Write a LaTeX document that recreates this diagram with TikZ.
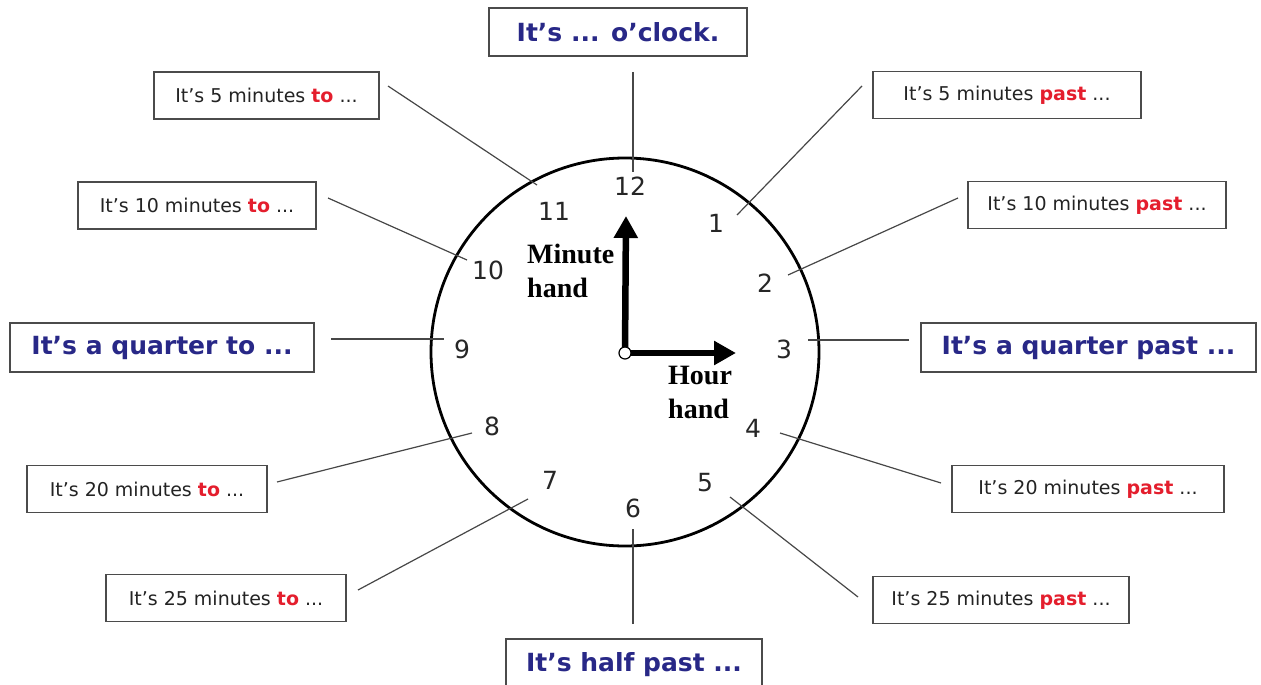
\documentclass[tikz,border=0pt]{standalone}
\usepackage{fontspec}
\setmainfont{DejaVu Sans}
\newfontfamily\handfont{Liberation Serif}
\usetikzlibrary{arrows.meta}
\definecolor{navy}{RGB}{40,40,135}
\definecolor{tored}{RGB}{228,30,45}
\definecolor{txt}{RGB}{35,35,35}
\definecolor{boxgray}{RGB}{75,75,75}
\begin{document}
\begin{tikzpicture}[x=1pt,y=-1pt,
  smallbox/.style={draw=boxgray,line width=1.9pt,fill=white,minimum height=47pt,inner sep=0pt,text=txt,font=\fontsize{19}{22}\selectfont},
  bigbox/.style={draw=boxgray,line width=1.9pt,fill=white,minimum height=48pt,inner sep=0pt,text=navy,font=\fontsize{25}{28}\selectfont\bfseries},
  conn/.style={draw=black!72,line width=1.2pt},
  num/.style={font=\fontsize{25}{28}\selectfont,text=black!85,inner sep=0pt},
  clockhand/.style={line width=6.5pt,-{Triangle[length=22pt,width=23pt]}},
  handlbl/.style={font=\handfont\bfseries\fontsize{28}{34}\selectfont,align=left,inner sep=0pt,anchor=north west}]
\useasboundingbox (0,0) rectangle (1261,685);
\clip (0,0) rectangle (1261,685);
\newcommand\tored[1]{\textcolor{tored}{\bfseries #1}}
% clock
\draw[line width=2.8pt] (625,352) circle[radius=194pt];
% boxes
\node[bigbox,minimum width=258pt] (oclock) at (618,32) {It’s ... o’clock.};
\node[smallbox,minimum width=225pt] (to5) at (266.5,95.5) {It’s 5 minutes \tored{to} ...};
\node[smallbox,minimum width=238pt] (to10) at (197,205.5) {It’s 10 minutes \tored{to} ...};
\node[bigbox,minimum width=304pt,minimum height=49pt] (qto) at (162,347.5) {It’s a quarter to ...};
\node[smallbox,minimum width=240pt] (to20) at (147,489) {It’s 20 minutes \tored{to} ...};
\node[smallbox,minimum width=240pt] (to25) at (226,598) {It’s 25 minutes \tored{to} ...};
\node[bigbox,minimum width=256pt,minimum height=52pt] (half) at (634,665) {\raisebox{3pt}{It’s half past ...}};
\node[smallbox,minimum width=268pt] (past5) at (1007,95) {It’s 5 minutes \tored{past} ...};
\node[smallbox,minimum width=258pt] (past10) at (1097,205) {It’s 10 minutes \tored{past} ...};
\node[bigbox,minimum width=335pt,minimum height=49pt] (qpast) at (1088.5,347.5) {It’s a quarter past ...};
\node[smallbox,minimum width=272pt] (past20) at (1088,489) {It’s 20 minutes \tored{past} ...};
\node[smallbox,minimum width=256pt] (past25) at (1001,600) {It’s 25 minutes \tored{past} ...};
% numbers
\node[num] (n12) at (630,186) {12};
\node[num] (n1) at (716,223) {1};
\node[num] (n2) at (765,283) {2};
\node[num] (n3) at (784,349) {3};
\node[num] (n4) at (753,428) {4};
\node[num] (n5) at (705,483) {5};
\node[num] (n6) at (633,508) {6};
\node[num] (n7) at (550,480) {7};
\node[num] (n8) at (492,426) {8};
\node[num] (n9) at (462,349) {9};
\node[num] (n10) at (488,270) {10};
\node[num] (n11) at (554,211) {11};
% connector end points
\coordinate (a12) at (633,72);   \coordinate (b12) at (633,172);
\coordinate (a11) at (388,86);   \coordinate (b11) at (537,185);
\coordinate (a10) at (328,198);  \coordinate (b10) at (467,260);
\coordinate (a9) at (331,339);   \coordinate (b9) at (444,339);
\coordinate (a8) at (277,482);   \coordinate (b8) at (472,433);
\coordinate (a7) at (358,590);   \coordinate (b7) at (528,499);
\coordinate (a6) at (633,624);   \coordinate (b6) at (633,529);
\coordinate (a5) at (858,597);   \coordinate (b5) at (730,497);
\coordinate (a4) at (941,483);   \coordinate (b4) at (780,433);
\coordinate (a3) at (909,340);   \coordinate (b3) at (808,340);
\coordinate (a2) at (958,198);   \coordinate (b2) at (788,275);
\coordinate (a1) at (862,86);    \coordinate (b1) at (737,215);
\foreach \i in {1,...,12} {\draw[conn] (a\i) -- (b\i);}
% hands
\coordinate (ctr) at (625,353);
\coordinate (mtip) at (626,216);
\coordinate (htip) at (736,353);
\draw[clockhand] (ctr) -- (mtip);
\draw[clockhand] (ctr) -- (htip);
\node[circle,draw=black,fill=white,line width=1.2pt,minimum size=12pt,inner sep=0pt] (hub) at (ctr) {};
\node[handlbl] (mlbl) at (527,244) {Minute\\hand};
\node[handlbl] (hlbl) at (668,366) {Hour\\hand};
\end{tikzpicture}
\end{document}
